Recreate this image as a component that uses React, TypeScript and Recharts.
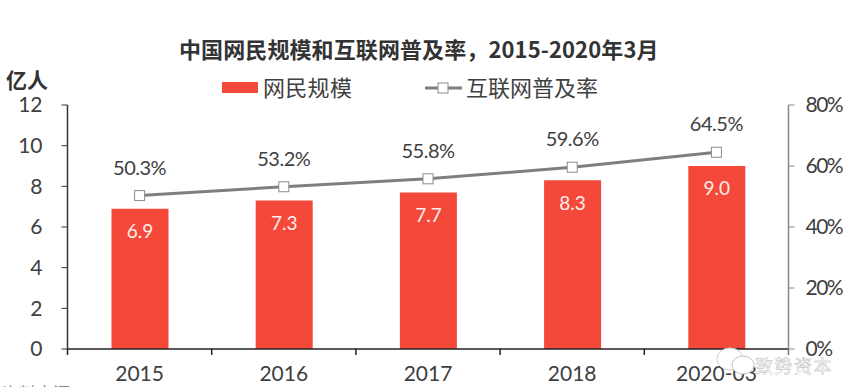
import { ComposedChart, Bar, Line, XAxis, YAxis, LabelList } from 'recharts';

const categories = ['2015', '2016', '2017', '2018', '2020-03'];
const users = [6.9, 7.3, 7.7, 8.3, 9.0];
const penetration = [50.3, 53.2, 55.8, 59.6, 64.5];
const leftTicks = [0, 2, 4, 6, 8, 10, 12];
const rightTicks = [0, 20, 40, 60, 80];

const data = categories.map((year, i) => ({ year, users: users[i], rate: penetration[i] }));

const LATIN = 'Lato, "Noto Sans CJK SC", sans-serif';
const CJK = '"Noto Sans CJK SC", sans-serif';
const TEXT = '#404040';
const RED = '#f3483a';
const GREY = '#7f7f7f';
const BAND = 144.2;

// category ticks sit on the band edges, labels stay centred
const XTick = ({ x, y, payload }: any) => (
  <g>
    <line x1={x - BAND / 2} x2={x - BAND / 2} y1={349} y2={355} stroke="#222" strokeWidth={1.5} />
    {payload.index === categories.length - 1 && (
      <line x1={x + BAND / 2} x2={x + BAND / 2} y1={349} y2={355} stroke="#777" strokeWidth={1.5} />
    )}
    <text x={x} y={y + 24} textAnchor="middle" fontSize={21} fontFamily={LATIN} fill={TEXT}>
      {payload.value}
    </text>
  </g>
);

const SquareDot = ({ cx, cy }: any) => (
  <rect x={cx - 5} y={cy - 5} width={10} height={10} fill="#fff" stroke="#8c8c8c" strokeWidth={1} />
);

const ChartLegend = () => (
  <div style={{ position: 'absolute', left: 0, top: 0, width: 856, height: 120, pointerEvents: 'none' }}>
    <div style={{ position: 'absolute', left: 222, top: 82, width: 36, height: 11, background: RED }} />
    <div style={{ position: 'absolute', left: 263, top: 71, fontSize: 22, lineHeight: '30px', letterSpacing: 0.3, color: TEXT, fontFamily: CJK }}>
      网民规模
    </div>
    <svg style={{ position: 'absolute', left: 420, top: 78 }} width={46} height={20}>
      <line x1={5} x2={42} y1={10} y2={10} stroke={GREY} strokeWidth={3} />
      <rect x={18} y={5} width={10} height={10} fill="#fff" stroke="#8c8c8c" />
    </svg>
    <div style={{ position: 'absolute', left: 466, top: 71, fontSize: 22, lineHeight: '30px', letterSpacing: 0, color: TEXT, fontFamily: CJK }}>
      互联网普及率
    </div>
    <div style={{ position: 'absolute', left: 179, top: 35, fontSize: 22, lineHeight: '26px', letterSpacing: 0.1, fontWeight: 700, color: '#333', fontFamily: CJK, whiteSpace: 'nowrap' }}>
      中国网民规模和互联网普及率，2015-2020年3月
    </div>
    <div style={{ position: 'absolute', left: 6, top: 65, fontSize: 21, lineHeight: '28px', fontWeight: 700, color: '#333', fontFamily: CJK }}>
      亿人
    </div>
  </div>
);

const App = () => (
  <div style={{ position: 'absolute', left: 0, top: 0, width: 856, height: 387, overflow: 'hidden', background: '#fff' }}>
    <ComposedChart
      width={856}
      height={387}
      data={data}
      margin={{ top: 105, right: 7.5, bottom: 0, left: 7.5 }}
    >
      <XAxis dataKey="year" height={38} tick={<XTick />} tickLine={false} axisLine={{ stroke: '#222', strokeWidth: 1.5 }} interval={0} />
      <YAxis
        yAxisId="left"
        width={60}
        domain={[0, 12]}
        ticks={leftTicks}
        tick={{ fontSize: 21, fontFamily: LATIN, fill: TEXT }}
        tickSize={6}
        tickMargin={19}
        tickLine={{ stroke: '#333' }}
        axisLine={{ stroke: '#333', strokeWidth: 1.5 }}
        interval={0}
      />
      <YAxis
        yAxisId="right"
        orientation="right"
        width={60}
        domain={[0, 80]}
        ticks={rightTicks}
        tickFormatter={(v: number) => `${v}%`}
        tick={{ fontSize: 21, fontFamily: LATIN, fill: TEXT, letterSpacing: -1.5 }}
        tickSize={6}
        tickMargin={11}
        tickLine={{ stroke: '#888' }}
        axisLine={{ stroke: '#888', strokeWidth: 1.5 }}
        interval={0}
      />
      <Bar yAxisId="left" dataKey="users" fill={RED} barSize={57} isAnimationActive={false}>
        <LabelList
          dataKey="users"
          position="insideTop"
          offset={16}
          formatter={(v: number) => v.toFixed(1)}
          style={{ fontSize: 19, fontFamily: LATIN, fill: '#fdeeea' }}
        />
      </Bar>
      <Line
        yAxisId="right"
        dataKey="rate"
        stroke={GREY}
        strokeWidth={3}
        dot={<SquareDot />}
        isAnimationActive={false}
      >
        <LabelList
          dataKey="rate"
          position="top"
          offset={21}
          formatter={(v: number) => `${v.toFixed(1)}%`}
          style={{ fontSize: 20, fontFamily: LATIN, fill: TEXT, letterSpacing: -0.5 }}
        />
      </Line>
    </ComposedChart>
    <ChartLegend />
    {/* watermark over the bottom right corner */}
    <svg style={{ position: 'absolute', left: 715, top: 346 }} width={44} height={30}>
      <ellipse cx={15} cy={13} rx={13} ry={11} fill="#fff" stroke="#d0d0d0" />
      <ellipse cx={28} cy={19} rx={11} ry={9} fill="#fff" stroke="#c4c4c4" />
    </svg>
    <div style={{ position: 'absolute', left: 755, top: 353, fontSize: 18, lineHeight: '24px', letterSpacing: 1.5, color: '#fff', WebkitTextStroke: '0.4px #b0b0b0', fontFamily: CJK }}>
      致势资本
    </div>
    <div style={{ position: 'absolute', left: 2, top: 383, fontSize: 17, lineHeight: '20px', color: '#888', fontFamily: CJK }}>
      资料来源：
    </div>
  </div>
);

export default App;
